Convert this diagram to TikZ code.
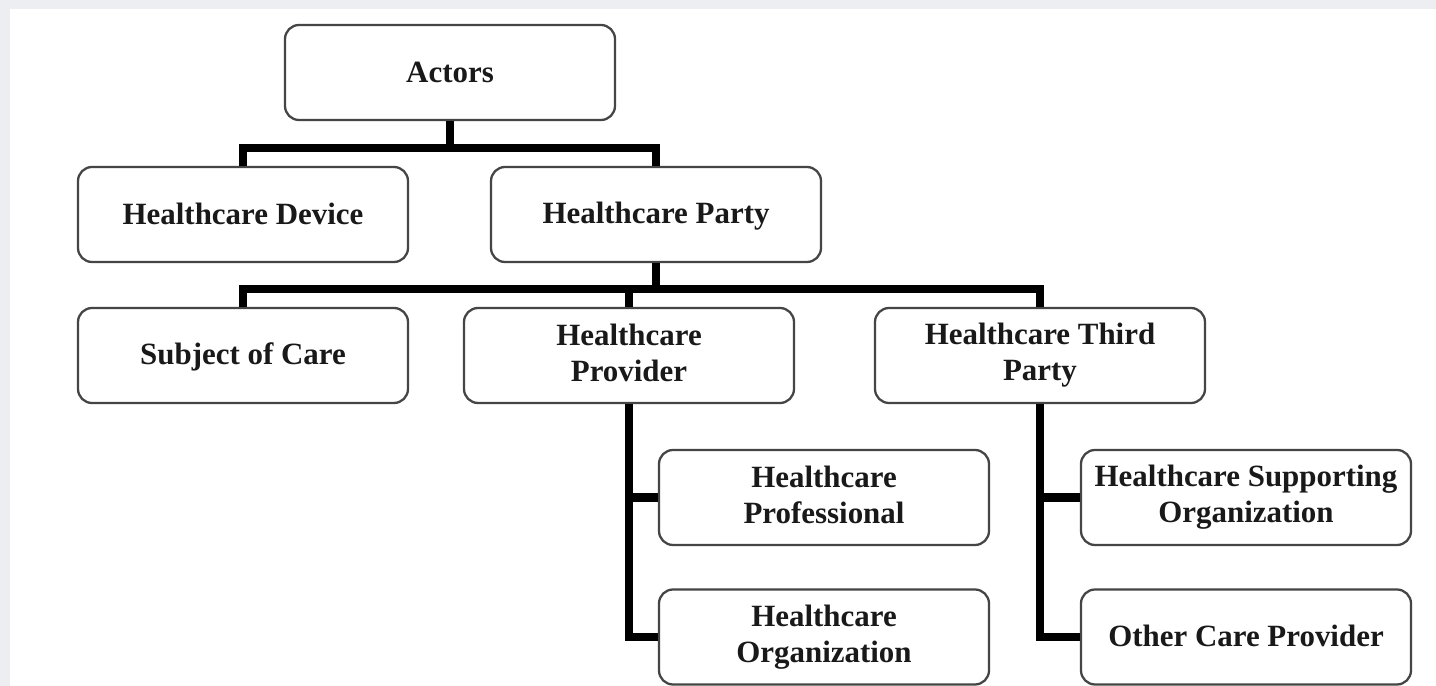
\documentclass[tikz,border=0pt]{standalone}
\usepackage{fontspec}
\setmainfont{Liberation Serif}
\usepackage{xcolor}
\usepackage{tikz}
\usetikzlibrary{positioning, calc}
\definecolor{pagegray}{HTML}{ECEEF1}
\definecolor{boxline}{HTML}{454545}
\newcommand{\boxstrut}{\rule[-3pt]{0pt}{17pt}}
\tikzstyle{actorbox} = [draw=boxline, line width=1.3pt, rounded corners=8pt, fill=white, minimum width=6.6cm, minimum height=1.9cm, align=center, font=\fontsize{17.6}{20.5}\selectfont\bfseries, text=black!90, execute at begin node=\boxstrut, execute at end node=\boxstrut]
\tikzstyle{bus} = [line width=4.6pt, line join=miter, black]

\begin{document}
\begin{tikzpicture}
% Page
\fill[pagegray] (0,0) rectangle (28.72,13.72);
\fill[white] (0.2,0) rectangle (28.72,13.54);
\useasboundingbox (0,0) rectangle (28.72,13.72);

% Top levels
\node[actorbox] (actors) at (9.0,12.27) {Actors};
\node[actorbox] (device) at (4.86,9.43) {Healthcare Device};
\node[actorbox] (party) at (13.12,9.43) {Healthcare Party};

% Parties
\node[actorbox] (subject) at (4.86,6.61) {Subject of Care};
\node[actorbox] (provider) at (12.58,6.61) {Healthcare\\Provider};
\node[actorbox] (third) at (20.8,6.61) {Healthcare Third\\Party};

% Providers
\node[actorbox] (professional) at (16.48,3.77) {Healthcare\\Professional};
\node[actorbox] (organization) at (16.48,0.98) {Healthcare\\Organization};

% Third parties
\node[actorbox] (supporting) at (24.92,3.77) {Healthcare Supporting\\Organization};
\node[actorbox] (other) at (24.92,0.98) {Other Care Provider};

% Connectors
\draw[bus] (actors.south) -- ++(0,-0.54) -| (device.north);
\draw[bus] (actors.south) -- ++(0,-0.54) -| (party.north);

\draw[bus] (party.south) -- ++(0,-0.52) -| (subject.north);
\draw[bus] (party.south) -- ++(0,-0.52) -| (provider.north);
\draw[bus] (party.south) -- ++(0,-0.52) -| (third.north);

\draw[bus] (provider.south) |- (professional.west);
\draw[bus] (provider.south) |- (organization.west);

\draw[bus] (third.south) |- (supporting.west);
\draw[bus] (third.south) |- (other.west);
\end{tikzpicture}
\end{document}
